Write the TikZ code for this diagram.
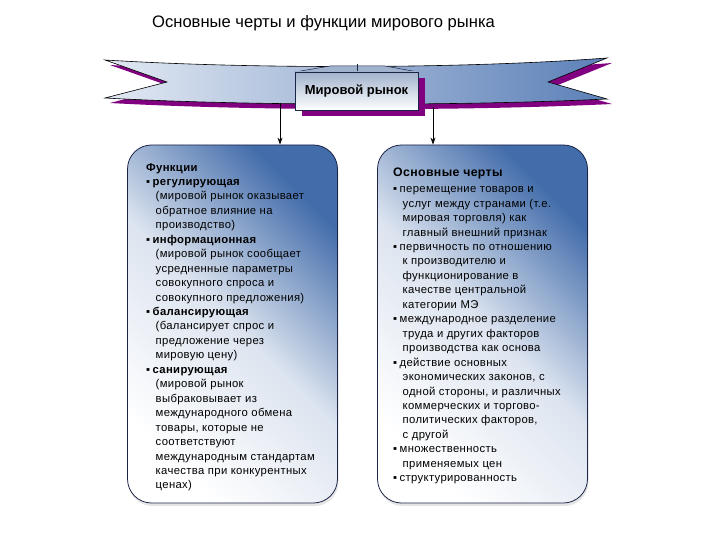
\documentclass[tikz,border=0pt]{standalone}
\usepackage{fontspec}
\setmainfont{Liberation Sans}
\usetikzlibrary{arrows.meta,shadows}

\definecolor{panelblue}{RGB}{66,108,170}
\definecolor{bannerblue}{RGB}{92,128,184}
\definecolor{bannerlight}{RGB}{226,233,243}
\definecolor{shadowpurple}{RGB}{128,0,128}
\definecolor{edgenavy}{RGB}{28,36,72}
\definecolor{capgrey}{RGB}{160,178,204}

\newcommand{\bul}{\makebox[6.5pt][l]{▪}}
\newcommand{\ind}{\hspace*{9.5pt}}

\tikzset{
  panel/.style={draw=edgenavy, line width=0.8pt, rounded corners=24pt,
    top color=panelblue, bottom color=white, middle color=panelblue!18,
    shading angle=-45, minimum width=210pt, minimum height=358pt,
    drop shadow={fill=black!20, shadow xshift=1pt, shadow yshift=-3pt}},
  bodytext/.style={anchor=north west, inner sep=0pt, align=left,
    font=\fontsize{11.3}{14.45}\selectfont\addfontfeatures{LetterSpace=3}},
  feed/.style={-{Stealth[length=7pt,width=5pt]}, line width=0.8pt}
}

\begin{document}
\begin{tikzpicture}[x=1pt, y=-1pt]
   \fill[white] (0, 0) rectangle (720, 540);
   \useasboundingbox (0, 0) rectangle (720, 540);

   \node[font=\fontsize{16.6}{19}\selectfont] (title) at (323.5, 23) {Основные черты и функции мирового рынка};

   % panels
   \node[panel] (fun) at (232.5, 324) {};
   \node[panel] (feat) at (482.5, 324) {};

   % banner with its shadow
   \fill[shadowpurple, shift={(5, 5)}] (105, 60) .. controls (250, 69) and (460, 69) .. (607, 58)
        -- (548, 82) -- (607, 99) .. controls (460, 106) and (250, 106) .. (105, 98) -- (167, 82) -- cycle;
   \draw[left color=bannerlight, right color=bannerblue, line width=0.6pt]
        (105, 60) .. controls (250, 69) and (460, 69) .. (607, 58)
        -- (548, 82) -- (607, 99) .. controls (460, 106) and (250, 106) .. (105, 98) -- (167, 82) -- cycle;
   \filldraw[fill=capgrey, draw=edgenavy, line width=0.5pt] (295, 72) -- (330, 66) -- (385, 66) -- (418, 72) -- cycle;
   \draw[edgenavy, line width=0.5pt] (357, 64) to (357, 72);

   \node[draw=edgenavy, line width=0.6pt, top color=capgrey, bottom color=white,
         minimum width=123pt, minimum height=38pt, font=\fontsize{13}{15}\selectfont\bfseries,
         drop shadow={fill=shadowpurple, opacity=1, shadow xshift=7pt, shadow yshift=-6pt}]
         (mr) at (356.5, 91) {Мировой рынок};

   % connectors
   \coordinate (bnL) at (280, 103);
   \coordinate (bnR) at (433, 107);
   \draw[feed] (bnL) to (bnL |- fun.north);
   \draw[feed] (bnR) to (bnR |- feat.north);

   \node[bodytext] (funtxt) at (146, 163) {\textbf{Функции}\\
      \bul\textbf{регулирующая}\\
      \ind(мировой рынок оказывает\\
      \ind обратное влияние на\\
      \ind производство)\\
      \bul\textbf{информационная}\\
      \ind(мировой рынок сообщает\\
      \ind усредненные параметры\\
      \ind совокупного спроса и\\
      \ind совокупного предложения)\\
      \bul\textbf{балансирующая}\\
      \ind(балансирует спрос и\\
      \ind предложение через\\
      \ind мировую цену)\\
      \bul\textbf{санирующая}\\
      \ind(мировой рынок\\
      \ind выбраковывает из\\
      \ind международного обмена\\
      \ind товары, которые не\\
      \ind соответствуют\\
      \ind международным стандартам\\
      \ind качества при конкурентных\\
      \ind ценах)};

   \node[bodytext] (feattxt) at (393, 168) {{\fontsize{12.3}{14}\selectfont\textbf{Основные черты}}\\[1.5pt]
      \bul перемещение товаров и\\
      \ind услуг между странами (т.е.\\
      \ind мировая торговля) как\\
      \ind главный внешний признак\\
      \bul первичность по отношению\\
      \ind к производителю и\\
      \ind функционирование в\\
      \ind качестве центральной\\
      \ind категории МЭ\\
      \bul международное разделение\\
      \ind труда и других факторов\\
      \ind производства как основа\\
      \bul действие основных\\
      \ind экономических законов, с\\
      \ind одной стороны, и различных\\
      \ind коммерческих и торгово-\\
      \ind политических факторов,\\
      \ind с другой\\
      \bul множественность\\
      \ind применяемых цен\\
      \bul структурированность};
\end{tikzpicture}
\end{document}
